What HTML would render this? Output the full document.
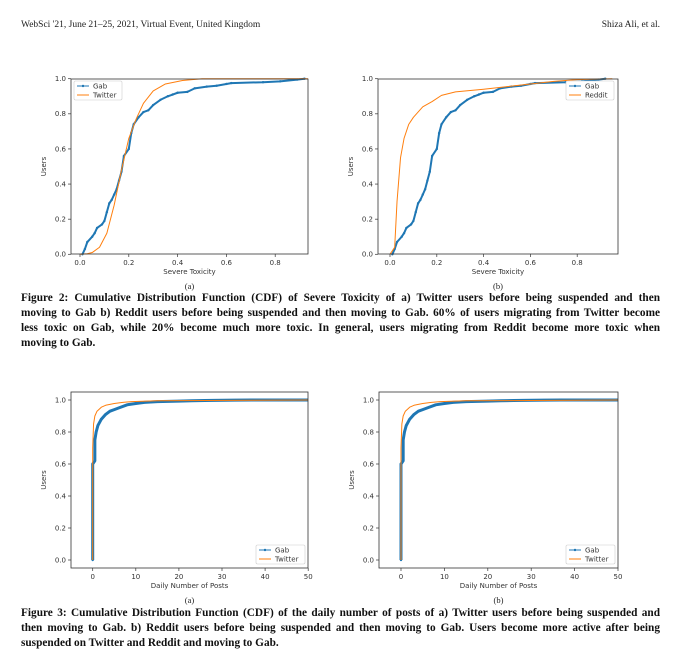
<!DOCTYPE html><html><head><style>
body{margin:0;background:#fff;width:700px;height:657px;overflow:hidden;position:relative}
.hd{position:absolute;top:20px;font:9.5px "Liberation Serif",serif;color:#222}
.cap{position:absolute;left:21px;width:639px;font:bold 11.3px/15px "Liberation Serif",serif;color:#111}
.cap div{text-align:justify;text-align-last:justify;white-space:nowrap}
.cap div.l{text-align-last:left}
svg{position:absolute;left:0;top:0}
</style></head><body>
<div class="hd" style="left:21px">WebSci '21, June 21–25, 2021, Virtual Event, United Kingdom</div>
<div class="hd" style="right:40px">Shiza Ali, et al.</div>
<div class="cap" style="top:291px"><div>Figure 2: Cumulative Distribution Function (CDF) of Severe Toxicity of a) Twitter users before being suspended and then</div><div>moving to Gab b) Reddit users before being suspended and then moving to Gab. 60% of users migrating from Twitter become</div><div>less toxic on Gab, while 20% become much more toxic. In general, users migrating from Reddit become more toxic when</div><div class="l">moving to Gab.</div></div>
<div class="cap" style="top:606px"><div>Figure 3: Cumulative Distribution Function (CDF) of the daily number of posts of a) Twitter users before being suspended and</div><div>then moving to Gab. b) Reddit users before being suspended and then moving to Gab. Users become more active after being</div><div class="l">suspended on Twitter and Reddit and moving to Gab.</div></div>
<svg id="s" width="700" height="657" font-family="DejaVu Sans, sans-serif"></svg>
<script>
const s=document.getElementById('s');let h='';
const B='#1f77b4',O='#ff7f0e';
function plot(o){
 const X=v=>o.x0+v*o.sx, Y=p=>o.y0-p*o.sy;
 h+=`<text x="${(o.L+o.R)/2}" y="${o.B+35}" font-family="Liberation Serif,serif" font-size="8.5" text-anchor="middle" fill="#222">${o.sub}</text>`;
 o.xt.forEach(t=>{const x=X(t);h+=`<line x1="${x}" y1="${o.B}" x2="${x}" y2="${o.B+3}" stroke="#333" stroke-width=".7"/><text x="${x}" y="${o.B+11}" font-size="7" text-anchor="middle" fill="#333">${o.xf(t)}</text>`});
 [0,.2,.4,.6,.8,1].forEach(t=>{const y=Y(t);h+=`<line x1="${o.L-3}" y1="${y}" x2="${o.L}" y2="${y}" stroke="#333" stroke-width=".7"/><text x="${o.L-5}" y="${y+2.4}" font-size="7" text-anchor="end" fill="#333">${t.toFixed(1)}</text>`});
 h+=`<text x="${(o.L+o.R)/2}" y="${o.B+20}" font-size="7" text-anchor="middle" fill="#333">${o.xl}</text>`;
 h+=`<text transform="translate(${o.L-25},${(o.T+o.B)/2}) rotate(-90)" font-size="7" text-anchor="middle" fill="#333">Users</text>`;
 h+=`<svg x="${o.L}" y="${o.T-3}" width="${o.R-o.L}" height="${o.B-o.T+6}" overflow="hidden"><g transform="translate(${-o.L},${-o.T+3})">`;
 const pl=(pts,c,w)=>{h+=`<polyline fill="none" stroke="${c}" stroke-width="${w}" stroke-linejoin="round" points="${pts.map(p=>X(p[0])+','+Y(p[1])).join(' ')}"/>`};
 pl(o.g,B,o.gw);o.g.forEach(p=>h+=`<circle cx="${X(p[0])}" cy="${Y(p[1])}" r="1.2" fill="${B}"/>`);
 pl(o.o,O,1);
 h+=`</g></svg>`;
 h+=`<rect x="${o.L}" y="${o.T}" width="${o.R-o.L}" height="${o.B-o.T}" fill="none" stroke="#333" stroke-width=".8"/>`;
 const lx=o.lx,ly=o.ly;
 h+=`<rect x="${lx}" y="${ly}" width="${o.lw}" height="19" fill="#fff" stroke="#ccc" stroke-width=".6" rx="1.5"/>
 <line x1="${lx+3}" y1="${ly+5}" x2="${lx+15}" y2="${ly+5}" stroke="${B}"/><circle cx="${lx+9}" cy="${ly+5}" r="1.2" fill="${B}"/>
 <text x="${lx+19}" y="${ly+7.3}" font-size="7" fill="#333">Gab</text>
 <line x1="${lx+3}" y1="${ly+14}" x2="${lx+15}" y2="${ly+14}" stroke="${O}"/>
 <text x="${lx+19}" y="${ly+16.3}" font-size="7" fill="#333">${o.on}</text>`;
}
const gt=[[0.01,0],[0.02,0.03],[0.03,0.07],[0.05,0.1],[0.06,0.12],[0.07,0.15],[0.09,0.17],[0.1,0.19],[0.11,0.24],[0.12,0.29],[0.13,0.31],[0.14,0.34],[0.15,0.37],[0.16,0.42],[0.17,0.47],[0.18,0.56],[0.2,0.6],[0.21,0.69],[0.22,0.74],[0.24,0.78],[0.26,0.81],[0.28,0.82],[0.3,0.85],[0.33,0.88],[0.36,0.9],[0.38,0.91],[0.4,0.92],[0.44,0.925],[0.47,0.945],[0.52,0.955],[0.56,0.96],[0.6,0.97],[0.62,0.975],[0.75,0.98],[0.82,0.985],[0.89,0.995],[0.92,1]];
const tf=t=>t.toFixed(1);
plot({L:71,R:308,T:79,B:254,x0:80,sx:244,y0:254.3,sy:175.6,xt:[0,.2,.4,.6,.8],xf:tf,xl:'Severe Toxicity',sub:'(a)',gw:2,g:gt,
 o:[[0,0],[0.03,0.003],[0.05,0.01],[0.08,0.04],[0.11,0.12],[0.14,0.28],[0.17,0.48],[0.2,0.66],[0.23,0.77],[0.26,0.86],[0.3,0.93],[0.35,0.97],[0.42,0.99],[0.5,1],[0.95,1]],on:'Twitter',lx:74,ly:81,lw:48});
plot({L:378,R:618,T:79,B:254,x0:390,sx:234,y0:254.3,sy:175.6,xt:[0,.2,.4,.6,.8],xf:tf,xl:'Severe Toxicity',sub:'(b)',gw:2,g:gt,
 o:[[0,0],[0.02,0.04],[0.03,0.3],[0.045,0.55],[0.06,0.66],[0.08,0.74],[0.1,0.78],[0.14,0.84],[0.18,0.87],[0.22,0.905],[0.28,0.925],[0.4,0.94],[0.5,0.955],[0.6,0.97],[0.7,0.985],[0.8,0.995],[0.95,1]],on:'Reddit',lx:566,ly:81,lw:48});
const gp=[[0,0],[0,0.6],[0.5,0.62],[0.5,0.75],[0.8,0.8],[1.2,0.84],[2,0.88],[3,0.91],[4,0.93],[5,0.94],[6,0.95],[8,0.97],[10,0.978],[12,0.985],[15,0.99],[20,0.993],[23,0.995],[26,0.997],[28,0.998],[33,0.999],[37,1],[43,1],[46,1],[48,1],[50,1]];
const to=[[0,0],[0,0.7],[0.2,0.85],[0.5,0.9],[1,0.93],[2,0.955],[3,0.967],[5,0.978],[7,0.985],[9,0.99],[15,0.995],[50,1]];
const xf=t=>t;
plot({L:71,R:308,T:392,B:568,x0:92.7,sx:4.31,y0:560,sy:160,xt:[0,10,20,30,40,50],xf,xl:'Daily Number of Posts',sub:'(a)',gw:3,g:gp,o:to,on:'Twitter',lx:256,ly:545,lw:49});
plot({L:379,R:618,T:392,B:568,x0:401,sx:4.34,y0:560,sy:160,xt:[0,10,20,30,40,50],xf,xl:'Daily Number of Posts',sub:'(b)',gw:3,g:gp,o:to,on:'Twitter',lx:566,ly:545,lw:49});
s.innerHTML=h;
</script></body></html>
